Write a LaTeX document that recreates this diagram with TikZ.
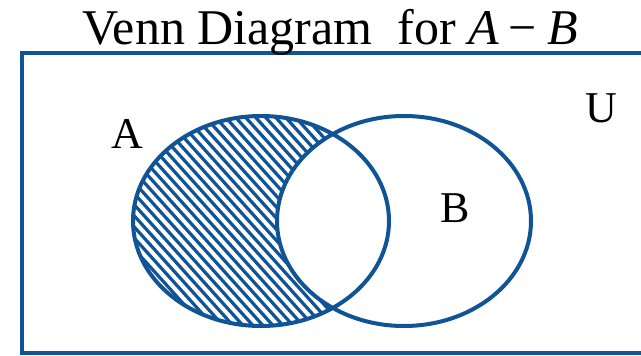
\documentclass[tikz,border=0pt]{standalone}
\usepackage{fontspec}
\setmainfont{Liberation Serif}
\definecolor{vblue}{RGB}{16,84,150}
\begin{document}
\begin{tikzpicture}[x=1pt,y=-1pt,
  outline/.style={draw=vblue,line width=4pt},
  hatch/.style={draw=vblue,line width=3.2pt},
  lbl/.style={inner sep=0pt,font=\fontsize{44}{48}\selectfont}]
\useasboundingbox (0,0) rectangle (641,356);
\clip (0,0) rectangle (641,356);
\fill[white] (0,0) rectangle (641,356);
% universe rectangle
\draw[outline] (22,53) rectangle (700,353);
% hatching of A - B
\begin{scope}
  \clip (261,221) ellipse [x radius=128, y radius=105];
  \foreach \k in {-130,-120,...,420} {
    \draw[hatch] (\k,100) -- (\k+225,350);
  }
\end{scope}
\fill[white] (404,221) ellipse [x radius=127, y radius=105];
\draw[outline] (261,221) ellipse [x radius=128, y radius=105];
\draw[outline] (404,221) ellipse [x radius=127, y radius=105];
% labels
\node[lbl,anchor=base] (title) at (330,45) {\fontsize{50}{54}\selectfont Venn Diagram\ \ for \textit{A}\hspace{10pt}−\hspace{10pt}\textit{B}};
\node[lbl,anchor=base] (la) at (127,148) {A};
\node[lbl,anchor=base] (lb) at (455,222) {B};
\node[lbl,anchor=base] (lu) at (601,122) {U};
\end{tikzpicture}
\end{document}
